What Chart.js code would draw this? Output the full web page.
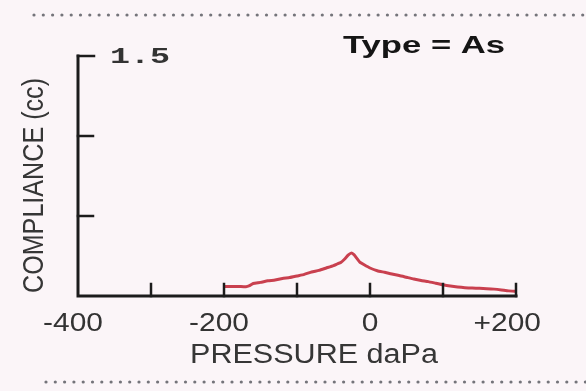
<!DOCTYPE html>
<html>
<head>
<meta charset="utf-8">
<script src="https://cdn.jsdelivr.net/npm/chart.js@4/dist/chart.umd.min.js"></script>
<style>
  html, body { margin: 0; padding: 0; background: #fbf5f8; }
  #wrap { width: 586px; height: 391px; }
</style>
</head>
<body>
<div id="wrap"><canvas id="tympChart" width="586" height="391"></canvas></div>
<script>
// tympanogram trace
const pressure = [-200, -190, -180, -170, -165, -160, -150, -140, -130, -120, -110, -100, -90, -80, -70, -60, -50, -45, -40, -35, -30, -26, -22, -18, -14, -8, 0, 10, 20, 30, 40, 50, 60, 70, 80, 90, 100, 110, 120, 130, 140, 150, 160, 170, 180, 190, 200]
const compliance = [0.06, 0.06, 0.06, 0.058, 0.065, 0.078, 0.085, 0.095, 0.10, 0.11, 0.115, 0.125, 0.135, 0.15, 0.16, 0.175, 0.19, 0.2, 0.21, 0.23, 0.255, 0.268, 0.258, 0.235, 0.212, 0.195, 0.175, 0.158, 0.148, 0.137, 0.128, 0.117, 0.106, 0.097, 0.09, 0.08, 0.07, 0.062, 0.056, 0.052, 0.05, 0.048, 0.046, 0.043, 0.038, 0.032, 0.03]

const xTicks = [-400, -300, -200, -100, 0, 100, 200]
const xLabels = { '-400': '-400', '-200': '-200', '0': '0', '200': '+200' }
const yTicks = [0.5, 1.0, 1.5]
const yTopLabel = '1.5'
const typeLabel = 'Type = As'
const xTitle = 'PRESSURE daPa'
const yTitle = 'COMPLIANCE (cc)'

// draw text squeezed/stretched to a given width (the scan is stretched sideways)
function stretchText(ctx, text, x, y, width, font, color) {
  ctx.save()
  ctx.font = font
  ctx.fillStyle = color
  ctx.textBaseline = 'alphabetic'
  ctx.textAlign = 'left'
  const w = ctx.measureText(text).width
  ctx.translate(x, y)
  ctx.scale(width / w, 1)
  ctx.fillText(text, 0, 0)
  ctx.restore()
}

function dots(ctx, x0, x1, y) {
  ctx.save()
  ctx.fillStyle = '#74747a'
  for (let x = x0; x <= x1; x += 9.3) {
    ctx.beginPath()
    ctx.arc(x, y, 1.6, 0, Math.PI * 2)
    ctx.fill()
  }
  ctx.restore()
}

const decor = {
  id: 'decor',
  beforeDraw(chart) {
    const ctx = chart.ctx
    ctx.save()
    ctx.fillStyle = '#fbf5f8'
    ctx.fillRect(0, 0, chart.width, chart.height)
    ctx.restore()
  },
  afterDatasetsDraw(chart) {
    const ctx = chart.ctx
    const xs = chart.scales.x
    const ys = chart.scales.y
    const left = xs.getPixelForValue(-400)
    const right = xs.getPixelForValue(200)
    const bottom = ys.getPixelForValue(0)
    const top = ys.getPixelForValue(1.5)

    ctx.save()
    ctx.strokeStyle = '#1c1c1c'
    ctx.lineWidth = 3
    ctx.lineCap = 'square'
    // axes
    ctx.beginPath()
    ctx.moveTo(left, top)
    ctx.lineTo(left, bottom)
    ctx.lineTo(right, bottom)
    ctx.stroke()
    // x ticks point up
    ctx.lineWidth = 2.5
    xTicks.forEach(v => {
      if (v === -400) return
      const px = xs.getPixelForValue(v)
      ctx.beginPath()
      ctx.moveTo(px, bottom)
      ctx.lineTo(px, bottom - 12)
      ctx.stroke()
    })
    // y ticks point right
    yTicks.forEach(v => {
      const py = ys.getPixelForValue(v)
      ctx.beginPath()
      ctx.moveTo(left, py)
      ctx.lineTo(left + (v === 1.5 ? 16 : 15), py)
      ctx.stroke()
    })
    ctx.restore()

    // x tick labels, digits centred on the tick, sign hangs to the left
    const font = '26px "Liberation Sans", Arial, sans-serif'
    ctx.save()
    ctx.font = font
    Object.keys(xLabels).forEach(k => {
      const txt = xLabels[k]
      const px = xs.getPixelForValue(Number(k))
      const sign = /^[-+]/.test(txt) ? txt[0] : ''
      const num = sign ? txt.slice(1) : txt
      const sc = 1.15
      const numW = ctx.measureText(num).width * sc
      const signW = sign ? ctx.measureText(sign).width * sc : 0
      const x0 = px - numW / 2 - signW
      stretchText(ctx, txt, x0, bottom + 35, numW + signW, font, '#333')
    })
    ctx.restore()

    // y top label
    stretchText(ctx, yTopLabel, 110, top + 7, 60, 'bold 22px "Liberation Mono", "Courier New", monospace', '#333')

    // titles
    stretchText(ctx, xTitle, 190, 363, 248, '27px "Liberation Sans", Arial, sans-serif', '#363636')
    stretchText(ctx, typeLabel, 343, 53, 162, 'bold 24px "Liberation Sans", Arial, sans-serif', '#151515')

    ctx.save()
    ctx.translate(43, 293)
    ctx.rotate(-Math.PI / 2)
    ctx.scale(1, 1.2)
    ctx.font = '25px "Liberation Sans", Arial, sans-serif'
    const tw = ctx.measureText(yTitle).width
    ctx.scale(215 / tw, 1)
    ctx.fillStyle = '#363636'
    ctx.fillText(yTitle, 0, 0)
    ctx.restore()

    dots(ctx, 34, 586, 15)
    dots(ctx, 46, 586, 382)
  }
}

const points = pressure.map((p, i) => ({ x: p, y: compliance[i] }))

new Chart(document.getElementById('tympChart').getContext('2d'), {
  type: 'line',
  data: {
    datasets: [{
      data: points,
      borderColor: '#c9404f',
      borderWidth: 3,
      pointRadius: 0,
      tension: 0.15,
      fill: false
    }]
  },
  options: {
    responsive: false,
    animation: false,
    layout: { padding: { left: 78, right: 70, top: 56, bottom: 95 } },
    plugins: { legend: { display: false }, tooltip: { enabled: false } },
    scales: {
      x: { type: 'linear', min: -400, max: 200, display: false },
      y: { min: 0, max: 1.5, display: false }
    }
  },
  plugins: [decor]
})
</script>
</body>
</html>
